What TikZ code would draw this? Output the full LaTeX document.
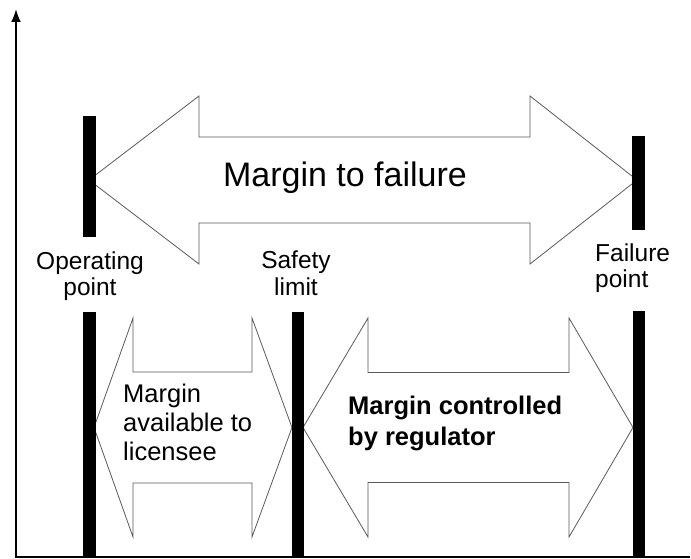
\documentclass[tikz,border=0pt]{standalone}
\usepackage{fontspec}
\setmainfont{Liberation Sans}
\usetikzlibrary{arrows.meta}

% double headed margin arrow: tips, head backs, centre line, half heights
\newcommand{\marrow}[7]{
  \draw[marginarrow] (#1,#5) -- (#2,{#5-#7}) -- (#2,{#5-#6}) -- (#3,{#5-#6})
    -- (#3,{#5-#7}) -- (#4,#5) -- (#3,{#5+#7}) -- (#3,{#5+#6})
    -- (#2,{#5+#6}) -- (#2,{#5+#7}) -- cycle;
}

\begin{document}
\begin{tikzpicture}[x=1pt,y=-1pt]

%
% Styles
%
\tikzstyle{marginarrow} = [draw=black!65,line width=0.8pt,line join=miter]
\tikzstyle{bar} = [fill=black]
\tikzstyle{axis} = [line width=2pt]
\tikzstyle{pointtext} = [font=\fontsize{24.5}{26.5}\selectfont,inner sep=0pt]
\tikzstyle{margintext} = [font=\fontsize{25.5}{29}\selectfont,align=left,inner sep=0pt,anchor=west]

\useasboundingbox (0,0) rectangle (691,559);

% axes
\draw[axis,-{Latex[length=13pt,width=10pt]}] (16,557) -- (16,9);
\draw[axis] (15,557) -- (690,557);

% margin arrows
\marrow{89}{199}{530}{637}{180}{43}{84}
\marrow{94}{133}{252}{292}{427.5}{55.5}{109.5}
\marrow{303}{368}{569}{633}{427.5}{55}{109.5}

% bars
\fill[bar] (83,116) rectangle (96,237);
\fill[bar] (83,312) rectangle (96,557);
\fill[bar] (292,312) rectangle (304,557);
\fill[bar] (632,136) rectangle (645,230);
\fill[bar] (633,311) rectangle (645,557);

% texts
\node[pointtext,align=center] (op) at (90,276) {Operating\\point};
\node[pointtext,align=center] (sl) at (296,273) {Safety\\limit};
\node[pointtext,align=left,anchor=west] (fp) at (595,268) {Failure\\point};

\node[font=\fontsize{34}{40}\selectfont,inner sep=0pt] (mtf) at (345,178) {Margin to failure};
\node[margintext] (mal) at (123,422) {Margin\\available to\\licensee};
\node[margintext,font=\fontsize{25.5}{31}\selectfont\bfseries] (mcr) at (348,423) {Margin controlled\\by regulator};

\end{tikzpicture}
\end{document}
